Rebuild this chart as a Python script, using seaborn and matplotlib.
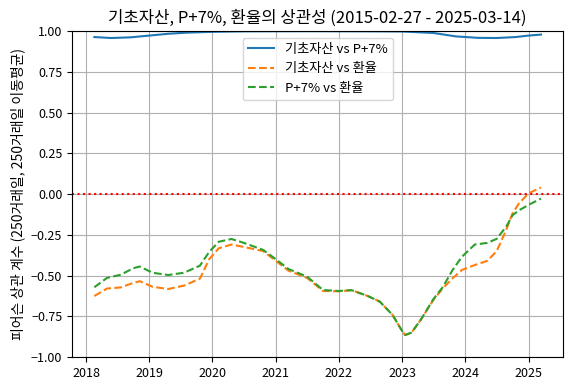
import pandas as pd
import seaborn as sns
import matplotlib
matplotlib.use('Agg')
import matplotlib.pyplot as plt
import matplotlib.dates as mdates

# =========================
# data

dates = ['2018-02-17', '2018-05-01', '2018-07-20', '2018-10-01', '2018-11-07',
         '2019-01-19', '2019-04-20', '2019-07-20', '2019-10-20', '2019-12-13',
         '2020-02-06', '2020-04-20', '2020-07-01', '2020-10-20', '2021-01-01',
         '2021-03-15', '2021-07-01', '2021-10-01', '2022-01-01', '2022-03-15',
         '2022-06-15', '2022-08-25', '2022-11-07', '2023-01-01', '2023-01-19',
         '2023-02-25', '2023-04-20', '2023-07-01', '2023-08-25', '2023-10-20',
         '2023-12-13', '2024-02-25', '2024-05-08', '2024-07-01', '2024-08-25',
         '2024-10-01', '2024-11-07', '2025-01-01', '2025-03-14']

base_vs_fx = [-0.626, -0.580, -0.573, -0.545, -0.535,
              -0.569, -0.583, -0.562, -0.520, -0.400,
              -0.333, -0.310, -0.325, -0.350, -0.410,
              -0.470, -0.515, -0.595, -0.597, -0.590,
              -0.625, -0.660, -0.742, -0.840, -0.865,
              -0.850, -0.770, -0.650, -0.578, -0.517,
              -0.466, -0.436, -0.410, -0.350, -0.220,
              -0.118, -0.057, 0.004, 0.040]

p7_vs_fx = [-0.572, -0.515, -0.495, -0.455, -0.445,
            -0.483, -0.497, -0.483, -0.440, -0.355,
            -0.293, -0.276, -0.300, -0.343, -0.400,
            -0.460, -0.507, -0.589, -0.595, -0.590,
            -0.625, -0.660, -0.742, -0.840, -0.865,
            -0.850, -0.770, -0.645, -0.570, -0.466,
            -0.385, -0.310, -0.300, -0.275, -0.200,
            -0.130, -0.100, -0.067, -0.028]

blue_dates = ['2018-02-17', '2018-05-25', '2018-09-12', '2019-01-01', '2019-04-20',
              '2019-08-07', '2020-01-01', '2020-07-01', '2021-07-01', '2022-07-01',
              '2023-01-01', '2023-07-01', '2023-11-07', '2024-03-15', '2024-07-01',
              '2024-10-20', '2025-01-01', '2025-03-14']
base_vs_p7 = [0.963, 0.957, 0.961, 0.972, 0.983,
              0.990, 0.995, 0.998, 0.999, 0.998,
              0.997, 0.988, 0.967, 0.958, 0.957,
              0.963, 0.972, 0.978]

title = '기초자산, P+7%, 환율의 상관성 (2015-02-27 - 2025-03-14)'
ylabel = '피어슨 상관 계수 (250거래일, 250거래일 이동평균)'

# ================
# PLOTTING
# ================

plt.rcParams['font.family'] = ['Noto Sans CJK KR', 'DejaVu Sans']
plt.rcParams['axes.unicode_minus'] = False

df_fx = pd.DataFrame({'date': pd.to_datetime(dates),
                      'base': base_vs_fx,
                      'p7': p7_vs_fx})
df_p7 = pd.DataFrame({'date': pd.to_datetime(blue_dates),
                      'val': base_vs_p7})

fig, ax = plt.subplots(figsize=(5.76, 3.9), dpi=100)

sns.lineplot(data=df_p7, x='date', y='val', ax=ax, color='C0',
             label='기초자산 vs P+7%')
sns.lineplot(data=df_fx, x='date', y='base', ax=ax, color='C1',
             linestyle='--', label='기초자산 vs 환율')
sns.lineplot(data=df_fx, x='date', y='p7', ax=ax, color='C2',
             linestyle='--', label='P+7% vs 환율')

# zero line
ax.axhline(0, color='red', linestyle=':', linewidth=1.5)

ax.set_ylim(-1, 1)
ax.set_yticks([-1, -0.75, -0.5, -0.25, 0, 0.25, 0.5, 0.75, 1])
ax.set_yticklabels(['−1.00', '−0.75', '−0.50', '−0.25', '0.00',
                    '0.25', '0.50', '0.75', '1.00'])
ax.xaxis.set_major_locator(mdates.YearLocator())
ax.xaxis.set_major_formatter(mdates.DateFormatter('%Y'))
ax.tick_params(labelsize=9)

ax.set_title(title, fontsize=12)
ax.set_xlabel('')
ax.set_ylabel(ylabel, fontsize=10)
ax.grid(True)
ax.legend(loc='upper center', fontsize=9.5)

fig.subplots_adjust(left=0.125, right=0.978, top=0.9205, bottom=0.0846)
plt.savefig('out.png', dpi=100)
plt.close()
